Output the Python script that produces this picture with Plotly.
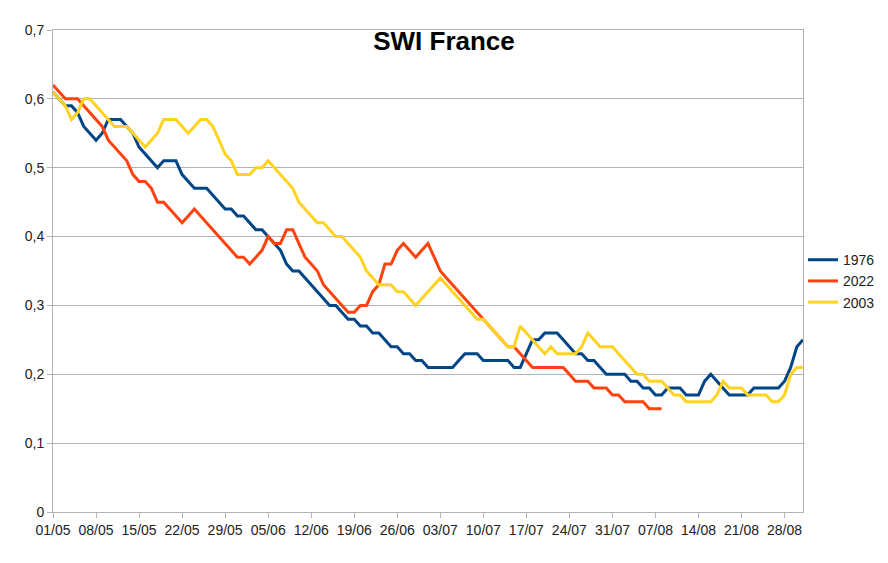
import pandas as pd
import plotly.graph_objects as go

# Daily dates from 01/05 to 31/08
start_date = "2022-05-01"
n_days = 123
dates = pd.date_range(start_date, periods=n_days, freq="D")

swi_1976 = [
    0.61, 0.60, 0.59, 0.59, 0.58, 0.56, 0.55, 0.54, 0.55, 0.57,
    0.57, 0.57, 0.56, 0.55, 0.53, 0.52, 0.51, 0.50, 0.51, 0.51,
    0.51, 0.49, 0.48, 0.47, 0.47, 0.47, 0.46, 0.45, 0.44, 0.44,
    0.43, 0.43, 0.42, 0.41, 0.41, 0.40, 0.39, 0.38, 0.36, 0.35,
    0.35, 0.34, 0.33, 0.32, 0.31, 0.30, 0.30, 0.29, 0.28, 0.28,
    0.27, 0.27, 0.26, 0.26, 0.25, 0.24, 0.24, 0.23, 0.23, 0.22,
    0.22, 0.21, 0.21, 0.21, 0.21, 0.21, 0.22, 0.23, 0.23, 0.23,
    0.22, 0.22, 0.22, 0.22, 0.22, 0.21, 0.21, 0.23, 0.25, 0.25,
    0.26, 0.26, 0.26, 0.25, 0.24, 0.23, 0.23, 0.22, 0.22, 0.21,
    0.20, 0.20, 0.20, 0.20, 0.19, 0.19, 0.18, 0.18, 0.17, 0.17,
    0.18, 0.18, 0.18, 0.17, 0.17, 0.17, 0.19, 0.20, 0.19, 0.18,
    0.17, 0.17, 0.17, 0.17, 0.18, 0.18, 0.18, 0.18, 0.18, 0.19,
    0.21, 0.24, 0.25,
]

swi_2022 = [
    0.62, 0.61, 0.60, 0.60, 0.60, 0.59, 0.58, 0.57, 0.56, 0.54,
    0.53, 0.52, 0.51, 0.49, 0.48, 0.48, 0.47, 0.45, 0.45, 0.44,
    0.43, 0.42, 0.43, 0.44, 0.43, 0.42, 0.41, 0.40, 0.39, 0.38,
    0.37, 0.37, 0.36, 0.37, 0.38, 0.40, 0.39, 0.39, 0.41, 0.41,
    0.39, 0.37, 0.36, 0.35, 0.33, 0.32, 0.31, 0.30, 0.29, 0.29,
    0.30, 0.30, 0.32, 0.33, 0.36, 0.36, 0.38, 0.39, 0.38, 0.37,
    0.38, 0.39, 0.37, 0.35, 0.34, 0.33, 0.32, 0.31, 0.30, 0.29,
    0.28, 0.27, 0.26, 0.25, 0.24, 0.24, 0.23, 0.22, 0.21, 0.21,
    0.21, 0.21, 0.21, 0.21, 0.20, 0.19, 0.19, 0.19, 0.18, 0.18,
    0.18, 0.17, 0.17, 0.16, 0.16, 0.16, 0.16, 0.15, 0.15, 0.15,
]

swi_2003 = [
    0.61, 0.60, 0.59, 0.57, 0.58, 0.60, 0.60, 0.59, 0.58, 0.57,
    0.56, 0.56, 0.56, 0.55, 0.54, 0.53, 0.54, 0.55, 0.57, 0.57,
    0.57, 0.56, 0.55, 0.56, 0.57, 0.57, 0.56, 0.54, 0.52, 0.51,
    0.49, 0.49, 0.49, 0.50, 0.50, 0.51, 0.50, 0.49, 0.48, 0.47,
    0.45, 0.44, 0.43, 0.42, 0.42, 0.41, 0.40, 0.40, 0.39, 0.38,
    0.37, 0.35, 0.34, 0.33, 0.33, 0.33, 0.32, 0.32, 0.31, 0.30,
    0.31, 0.32, 0.33, 0.34, 0.33, 0.32, 0.31, 0.30, 0.29, 0.28,
    0.28, 0.27, 0.26, 0.25, 0.24, 0.24, 0.27, 0.26, 0.25, 0.24,
    0.23, 0.24, 0.23, 0.23, 0.23, 0.23, 0.24, 0.26, 0.25, 0.24,
    0.24, 0.24, 0.23, 0.22, 0.21, 0.20, 0.20, 0.19, 0.19, 0.19,
    0.18, 0.17, 0.17, 0.16, 0.16, 0.16, 0.16, 0.16, 0.17, 0.19,
    0.18, 0.18, 0.18, 0.17, 0.17, 0.17, 0.17, 0.16, 0.16, 0.17,
    0.20, 0.21, 0.21,
]

series_names = ["1976", "2022", "2003"]
series_values = [swi_1976, swi_2022, swi_2003]
series_colors = ["#004586", "#ff420e", "#ffd320"]

y_ticks = [0, 0.1, 0.2, 0.3, 0.4, 0.5, 0.6, 0.7]

FONT = "Liberation Sans, Arial, sans-serif"

fig = go.Figure()
for name, vals, col in zip(series_names, series_values, series_colors):
    fig.add_trace(go.Scatter(
        x=dates[:len(vals)], y=vals, name=name, mode="lines",
        line=dict(color=col, width=3),
    ))

# page body has an 8px default margin: keep the figure inside the viewport
W, H = 872, 547
fig.update_layout(
    width=W, height=H,
    margin=dict(l=45, r=77, t=22, b=43, autoexpand=False),
    paper_bgcolor="white", plot_bgcolor="white",
    separators=", ",
    font=dict(family=FONT, size=14, color="#222222"),
    title=dict(text="SWI France", x=(444 - 8) / W, xanchor="center",
               y=1 - 33 / H, yanchor="middle", yref="container",
               font=dict(family=FONT, size=26, color="#000000", weight="bold")),
    legend=dict(x=1.0, y=0.479, xanchor="left", yanchor="middle",
                font=dict(family=FONT, size=14, color="#222222"),
                bgcolor="rgba(0,0,0,0)", tracegroupgap=0),
    showlegend=True,
)

fig.update_xaxes(
    type="date",
    range=[dates[0], dates[-1]],
    tick0=dates[0], dtick=7 * 86400000,
    tickformat="%d/%m",
    ticks="outside", ticklen=5, tickcolor="#b3b3b3",
    showline=True, linecolor="#b3b3b3", linewidth=1, mirror=True,
    showgrid=False, zeroline=False,
    tickfont=dict(family=FONT, size=14, color="#222222"),
)
fig.update_yaxes(
    range=[0, 0.7], tickvals=y_ticks,
    ticks="outside", ticklen=5, tickcolor="#b3b3b3",
    showline=True, linecolor="#b3b3b3", linewidth=1, mirror=True,
    showgrid=True, gridcolor="#b3b3b3", gridwidth=1, zeroline=False,
    tickfont=dict(family=FONT, size=14, color="#222222"),
)

fig.write_html("out.html")
